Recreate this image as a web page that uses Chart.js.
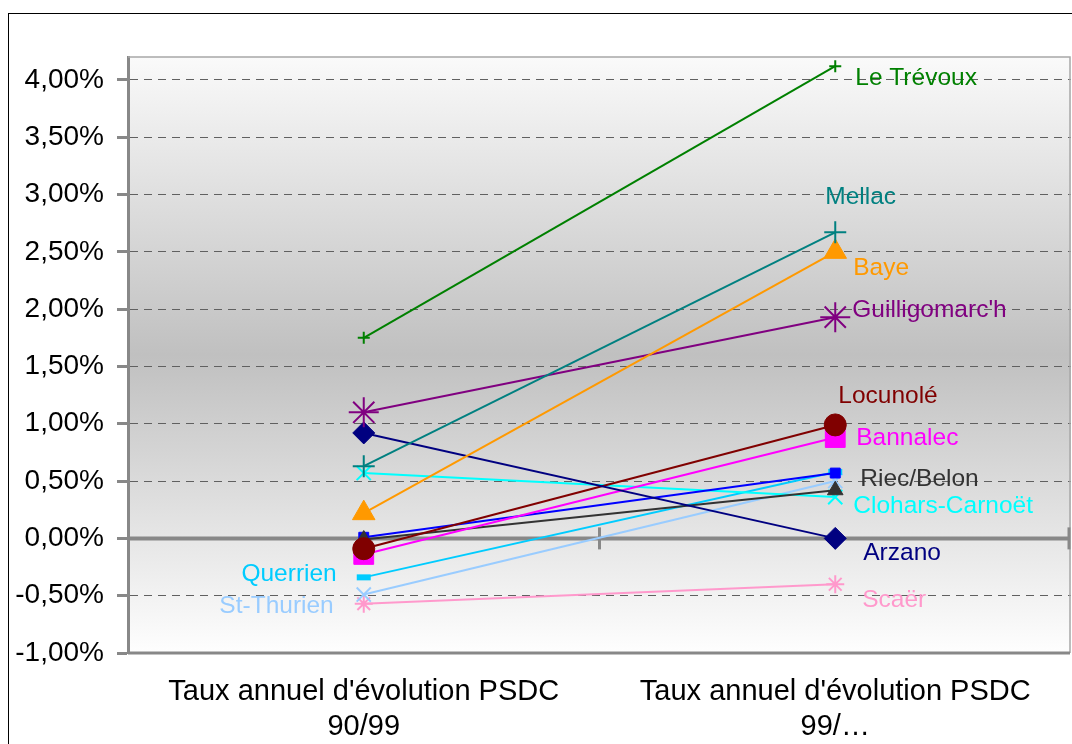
<!DOCTYPE html>
<html>
<head>
<meta charset="utf-8">
<script src="https://cdn.jsdelivr.net/npm/chart.js@4/dist/chart.umd.min.js"></script>
<style>
  html, body { margin: 0; padding: 0; background: #fff; }
  #wrap { width: 1072px; height: 744px; }
</style>
</head>
<body>
<div id="wrap"><canvas id="chart"></canvas></div>
<script>
// data (annual growth rates, %)
const categories = [["Taux annuel d'évolution PSDC", "90/99"], ["Taux annuel d'évolution PSDC", "99/…"]];
const communes = ["Le Trévoux", "Mellac", "Baye", "Guilligomarc'h", "Arzano", "Locunolé", "Bannalec",
                  "Riec/Belon", "", "Clohars-Carnoët", "Querrien", "St-Thurien", "Scaër"];
const rate9099 = [1.75, 0.63, 0.22, 1.10, 0.92, -0.09, -0.14, -0.01, 0.01, 0.57, -0.34, -0.49, -0.57];
const rate99 = [4.12, 2.67, 2.50, 1.93, 0.00, 0.99, 0.88, 0.42, 0.57, 0.36, 0.58, 0.50, -0.40];
const yTicks = [-1, -0.5, 0, 0.5, 1, 1.5, 2, 2.5, 3, 3.5, 4];

// look of each series
const colors = ["#008000", "#008080", "#FF9900", "#800080", "#000080", "#800000", "#FF00FF",
                "#333333", "#0000FF", "#00FFFF", "#00CCFF", "#99CCFF", "#FF99CC"];
const markers = [
  { style: "cross", r: 6, w: 2 },
  { style: "cross", r: 11, w: 2 },
  { style: "triangle", r: 13, w: 1 },
  { style: "star", r: 15, w: 2 },
  { style: "rectRot", r: 11, w: 1 },
  { style: "circle", r: 11, w: 1 },
  { style: "rect", r: 14, w: 1 },
  { style: "triangle", r: 9, w: 1 },
  { style: "rect", r: 7, w: 1 },
  { style: "crossRot", r: 10, w: 2 },
  { style: "line", r: 7, w: 6 },
  { style: "crossRot", r: 10, w: 2 },
  { style: "star", r: 9, w: 2 }
];
// where each name sits next to its point: [point index, dx, dy, align]
const labelSpots = [
  [1, 20, 12, "left"], [1, -10, -35, "left"], [1, 18, 16, "left"], [1, 17, -7, "left"],
  [1, 28, 15, "left"], [1, 3, -29, "left"], [1, 21, 1, "left"], [1, 25, -11, "left"],
  null, [1, 18, 9, "left"], [0, -27, -3, "right"], [0, -30, 12, "right"], [1, 27, 16, "left"]
];

const FONT = "'Liberation Sans', Arial, sans-serif";

const datasets = communes.map((name, i) => ({
  label: name,
  data: [rate9099[i], rate99[i]],
  borderColor: colors[i],
  backgroundColor: colors[i],
  borderWidth: 2,
  pointStyle: markers[i].style,
  pointRadius: markers[i].r,
  pointBorderWidth: markers[i].w,
  pointBackgroundColor: colors[i],
  pointBorderColor: colors[i],
  tension: 0
}));

const plotBack = {
  id: "plotBack",
  beforeDraw(chart) {
    const { ctx, chartArea: a } = chart;
    const g = ctx.createLinearGradient(0, a.top, 0, a.bottom);
    g.addColorStop(0, "#fafafa");
    g.addColorStop(0.5, "#c0c0c0");
    g.addColorStop(1, "#fefefe");
    ctx.save();
    ctx.fillStyle = g;
    ctx.fillRect(a.left, a.top, a.right - a.left, a.bottom - a.top);
    ctx.restore();
  },
  beforeDatasetsDraw(chart) {
    const { ctx, chartArea: a, scales: { x, y } } = chart;
    ctx.save();
    // frame of the plot
    ctx.strokeStyle = "#a8a8a8";
    ctx.lineWidth = 1.5;
    ctx.beginPath();
    ctx.moveTo(a.left, a.top);
    ctx.lineTo(a.right - 1, a.top);
    ctx.lineTo(a.right - 1, a.bottom);
    ctx.stroke();
    ctx.strokeStyle = "#888";
    ctx.lineWidth = 3;
    ctx.beginPath();
    ctx.moveTo(a.left, a.bottom);
    ctx.lineTo(a.right - 1, a.bottom);
    ctx.stroke();
    // category axis crossing at 0
    const y0 = y.getPixelForValue(0);
    ctx.lineWidth = 4;
    ctx.beginPath();
    ctx.moveTo(a.left, y0);
    ctx.lineTo(a.right - 1, y0);
    ctx.stroke();
    ctx.lineWidth = 3;
    [0.5, 1.5].forEach(v => {
      const px = Math.min(x.getPixelForValue(v), a.right - 2);
      ctx.beginPath();
      ctx.moveTo(px, y0 - 11);
      ctx.lineTo(px, y0 + 11);
      ctx.stroke();
    });
    ctx.restore();
  },
  afterDatasetsDraw(chart) {
    const { ctx } = chart;
    ctx.save();
    ctx.font = "24.5px " + FONT;
    ctx.textBaseline = "middle";
    communes.forEach((name, i) => {
      const spot = labelSpots[i];
      if (!name || !spot) return;
      const pt = chart.getDatasetMeta(i).data[spot[0]];
      ctx.fillStyle = colors[i];
      ctx.textAlign = spot[3];
      ctx.fillText(name, pt.x + spot[1], pt.y + spot[2]);
    });
    ctx.restore();
  },
  afterDraw(chart) {
    const { ctx } = chart;
    ctx.save();
    ctx.strokeStyle = "#000";
    ctx.lineWidth = 1;
    ctx.strokeRect(8.5, 13.5, 2000, 2000);
    ctx.restore();
  }
};

new Chart(document.getElementById("chart"), {
  type: "line",
  data: { labels: categories, datasets },
  plugins: [plotBack],
  options: {
    responsive: true,
    maintainAspectRatio: false,
    animation: false,
    layout: { autoPadding: false, padding: { top: 57, right: 1, left: 0, bottom: 0 } },
    plugins: { legend: { display: false }, tooltip: { enabled: false } },
    scales: {
      x: {
        type: "category",
        offset: true,
        grid: { display: false },
        border: { display: false },
        ticks: { color: "#000", font: { family: FONT, size: 29, lineHeight: 1.2 }, padding: 14, maxRotation: 0 },
        afterFit: s => { s.height = 91; s.paddingLeft = 0; s.paddingRight = 0; }
      },
      y: {
        min: -1,
        max: 4.2,
        afterBuildTicks: s => { s.ticks = yTicks.map(v => ({ value: v })); },
        afterFit: s => { s.width = 128; },
        grid: {
          color: c => (c.tick && (c.tick.value === 0 || c.tick.value === -1)) ? "rgba(0,0,0,0)" : "#606060",
          lineWidth: 1,
          tickColor: "#888",
          tickWidth: 3,
          tickLength: 11
        },
        border: { display: true, color: "#888", width: 3, dash: [8, 6] },
        ticks: {
          color: "#000",
          padding: 13,
          font: { family: FONT, size: 28 },
          callback: v => v.toFixed(2).replace(".", ",") + "%"
        }
      }
    }
  }
});
</script>
</body>
</html>
